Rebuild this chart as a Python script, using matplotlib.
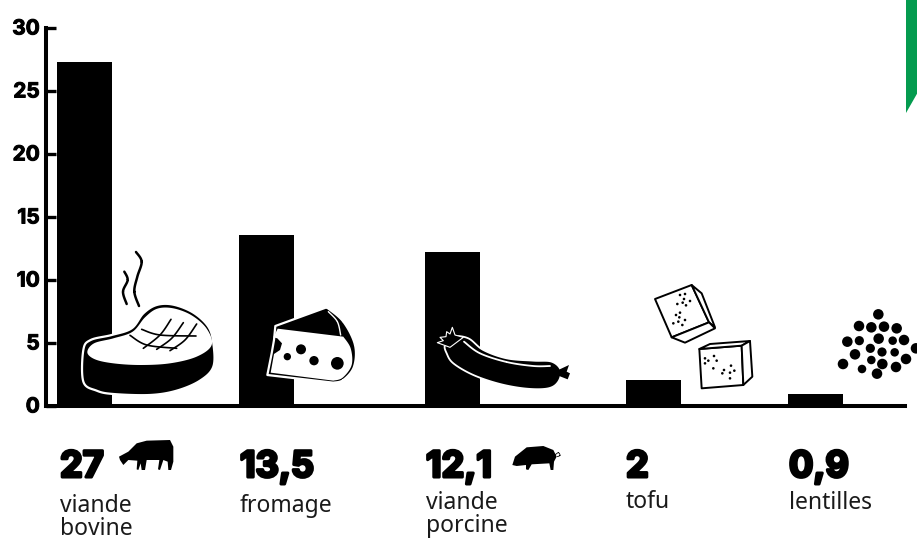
import numpy as np
import matplotlib
matplotlib.use("Agg")
import matplotlib.pyplot as plt
import matplotlib.patheffects as pe
from matplotlib.patches import Polygon, Circle
from matplotlib.transforms import ScaledTranslation

categories = ["viande\nbovine", "fromage", "viande\nporcine", "tofu", "lentilles"]
value_labels = ["27", "13,5", "12,1", "2", "0,9"]
bar_values = [27.3, 13.6, 12.2, 2.05, 0.95]
y_ticks = [0, 5, 10, 15, 20, 25, 30]

W, H = 917, 541
BLACK = "#000000"
GREEN = "#049B4F"
bar_left = [57, 239, 425, 626, 788]
label_left = [60, 240, 426, 626, 789]
name_top = [494, 494, 491, 490, 491]


def smooth(pts, n=12):
    # closed Catmull-Rom outline, good enough for the little icons
    p = np.array(pts, float)
    out = []
    for i in range(len(p)):
        p0, p1, p2, p3 = p[i - 1], p[i], p[(i + 1) % len(p)], p[(i + 2) % len(p)]
        for t in np.linspace(0, 1, n, endpoint=False):
            out.append(0.5 * (2 * p1 + (p2 - p0) * t + (2 * p0 - 5 * p1 + 4 * p2 - p3) * t**2
                              + (3 * p1 - p0 - 3 * p2 + p3) * t**3))
    return np.array(out)


def smooth_open(pts, n=12):
    p = np.array(pts, float)
    p = np.vstack([p[0], p, p[-1]])
    out = []
    for i in range(1, len(p) - 2):
        p0, p1, p2, p3 = p[i - 1], p[i], p[i + 1], p[i + 2]
        for t in np.linspace(0, 1, n):
            out.append(0.5 * (2 * p1 + (p2 - p0) * t + (2 * p0 - 5 * p1 + 4 * p2 - p3) * t**2
                              + (3 * p1 - p0 - 3 * p2 + p3) * t**3))
    return np.array(out)


# zoom crops are 3x, so icon points below are written in crop pixels
def z1(pts):
    return np.array([(x / 3, 230 + y / 3) for x, y in pts])


def z2(pts):
    return np.array([(400 + x / 3, 230 + y / 3) for x, y in pts])


fig = plt.figure(figsize=(W / 100, H / 100), dpi=100, facecolor="white")
ax = fig.add_axes([46 / W, 1 - 406 / H, (905 - 46) / W, (406 - 28) / H])
ax.set_xlim(46, 905)
ax.set_ylim(0, 30)
ax.bar(bar_left, bar_values, width=55, align="edge", color=BLACK, linewidth=0, zorder=1)

for s in ["top", "right"]:
    ax.spines[s].set_visible(False)
for s in ["left", "bottom"]:
    ax.spines[s].set_linewidth(2.9)
    ax.spines[s].set_zorder(3)
ax.spines["left"].set_capstyle("projecting")
ax.set_xticks([])
ax.set_yticks(y_ticks)
ax.tick_params(axis="y", direction="in", length=7.5, width=2.4, pad=4.5, labelsize=15, color=BLACK)
nudge = ScaledTranslation(0, 1.5 / 100, fig.dpi_scale_trans)
for lab in ax.get_yticklabels():
    lab.set_fontfamily("Inter")
    lab.set_fontweight("bold")
    lab.set_path_effects([pe.withStroke(linewidth=0.7, foreground=BLACK)])
    lab.set_transform(lab.get_transform() + nudge)

ov = fig.add_axes([0, 0, 1, 1], facecolor="none", zorder=5)
ov.set_xlim(0, W)
ov.set_ylim(H, 0)
ov.axis("off")


def poly(pts, fc=BLACK, ec="none", lw=0.0, z=5):
    ov.add_patch(Polygon(pts, closed=True, facecolor=fc, edgecolor=ec, linewidth=lw, zorder=z, joinstyle="round"))


def line(pts, color=BLACK, lw=1.0, z=6):
    ov.plot(pts[:, 0], pts[:, 1], color=color, lw=lw, solid_capstyle="round", zorder=z)


# green tab in the top right corner
poly([(906, -1), (918, -1), (918, 92), (906, 113)], fc=GREEN)

# steak
steak = [(250, 360), (272, 330), (335, 315), (395, 295), (430, 250), (470, 225), (520, 224), (580, 248),
         (625, 290), (640, 340), (640, 410), (600, 452), (530, 482), (450, 495), (340, 492), (290, 482), (250, 455)]
poly(smooth(z1(steak)), ec="white", lw=1.6)
top = [(262, 367), (282, 340), (340, 325), (398, 305), (435, 262), (472, 236), (520, 235), (575, 256),
       (620, 296), (635, 345), (590, 380), (510, 400), (420, 405), (340, 400), (285, 388)]
poly(smooth(z1(top)), fc="white", z=6)
for pts in [[(513, 268), (480, 315), (430, 355)], [(550, 278), (515, 325), (470, 358)],
            [(590, 282), (555, 330), (510, 362)], [(425, 298), (480, 315), (588, 318)],
            [(390, 316), (440, 345), (530, 355)]]:
    line(smooth_open(z1(pts)), lw=1.2, z=7)
line(smooth_open(z1([(408, 66), (425, 95), (412, 140), (403, 185), (417, 228)])), lw=1.8)
line(smooth_open(z1([(373, 125), (383, 150), (369, 185), (380, 222)])), lw=1.8)

# cheese: white edged silhouette, then the pale face on top of it
rind_arc = smooth_open(z1([(980, 232), (1030, 275), (1065, 345), (1062, 410), (1030, 450), (1000, 458)]))
cheese = np.vstack([z1([(826, 288)]), rind_arc, z1([(802, 435), (815, 370), (822, 330)])])
poly(cheese, ec="white", lw=1.6)
face_arc = smooth_open(z1([(1030, 320), (1052, 355), (1055, 405), (1028, 443), (1000, 452)]))
face = np.vstack([z1([(833, 296)]), face_arc, z1([(812, 428), (822, 372), (840, 360), (846, 340), (832, 325), (820, 322)])])
poly(face, fc="white", z=6)
line(smooth_open(z1([(985, 245), (1012, 275), (1022, 315)])), color="white", lw=1.0, z=7)
for x, y, r in [(903, 358, 15), (862, 380, 11), (942, 392, 14), (1012, 400, 19)]:
    ov.add_patch(Circle(z1([(x, y)])[0], r / 3, fc=BLACK, ec="none", zorder=7))

# sausage
sausage = [(135, 345), (160, 320), (205, 325), (250, 360), (320, 385), (400, 392), (455, 395), (482, 420),
           (475, 455), (445, 475), (380, 476), (300, 462), (220, 435), (160, 400), (140, 370)]
poly(smooth(z2(sausage)), ec="white", lw=1.3)
poly(z2([(112, 338), (130, 332), (120, 322), (138, 320), (140, 305), (150, 312), (157, 292), (165, 315), (190, 322),
         (150, 352)]), ec="white", lw=0.8)
poly(z2([(475, 420), (507, 405), (500, 425), (510, 430), (503, 448), (475, 437)]))
line(smooth_open(z2([(192, 335), (240, 370), (320, 396), (400, 408), (450, 408)])), color="white", lw=1.3)

# tofu
cube_a = [[(765, 207), (875, 165), (927, 277), (815, 322)],
          [(875, 165), (905, 190), (945, 292), (927, 277)],
          [(815, 322), (927, 277), (945, 295), (855, 338)]]
cube_b = [[(898, 357), (1025, 347), (1030, 465), (905, 475)],
          [(898, 357), (930, 342), (1050, 333), (1025, 347)],
          [(1025, 347), (1050, 333), (1057, 440), (1030, 465)]]
for face_pts in cube_a + cube_b:
    poly(z2(face_pts), fc="white", ec=BLACK, lw=1.4)
tofu_dots = [(840, 195), (855, 192), (852, 207), (870, 213), (848, 218), (832, 222), (858, 226), (840, 248), (828, 255),
             (838, 262), (855, 270), (820, 280), (835, 275), (847, 285), (915, 385), (942, 378), (925, 392), (950, 392),
             (915, 400), (940, 415), (993, 407), (972, 420), (1003, 422), (967, 430), (990, 428), (990, 445)]
for x, y in tofu_dots:
    ov.add_patch(Circle(z2([(x, y)])[0], 1.3, fc=BLACK, ec="none", zorder=7))

# lentils
lentils = [(1435, 253, 14), (1377, 288, 14), (1414, 292, 14), (1452, 290, 14), (1490, 295, 14), (1342, 335, 14),
           (1378, 332, 12), (1436, 326, 14), (1478, 332, 11), (1512, 330, 14), (1548, 355, 14), (1411, 355, 12),
           (1446, 366, 12), (1484, 367, 11), (1365, 373, 14), (1414, 390, 11), (1518, 387, 14), (1329, 402, 14),
           (1386, 417, 11), (1447, 402, 14), (1488, 411, 14), (1431, 431, 14)]
for x, y, r in lentils:
    ov.add_patch(Circle(z2([(x, y)])[0], r / 3 + 0.6, fc=BLACK, ec="none", zorder=6))

# cow and pig
cow = [(357, 680), (385, 665), (410, 640), (440, 632), (510, 630), (520, 650), (520, 695), (513, 720), (505, 720),
       (503, 695), (490, 690), (480, 720), (474, 718), (478, 690), (440, 690), (435, 720), (425, 720), (422, 700),
       (415, 720), (410, 718), (412, 692), (385, 690), (370, 705), (360, 690)]
poly(z1(cow))
pig = [(337, 705), (345, 680), (380, 652), (430, 648), (460, 660), (470, 680), (462, 695), (460, 720), (452, 720),
       (448, 700), (395, 703), (385, 720), (378, 718), (378, 705), (350, 708)]
poly(z2(pig))
line(smooth_open(z2([(465, 675), (475, 668), (480, 676), (472, 680)])), lw=0.6)

for x, val, name, ny in zip(label_left, value_labels, categories, name_top):
    ov.text(x, 477, val, fontsize=26, fontfamily="Inter", fontweight="bold", ha="left", va="baseline", color=BLACK,
            path_effects=[pe.withStroke(linewidth=2.2, foreground=BLACK)], clip_on=False)
    ov.text(x, ny, name, fontsize=16.5, fontfamily="Noto Sans", ha="left", va="top", color="#1a1a1a",
            linespacing=0.95, clip_on=False)

fig.savefig("out.png", dpi=100)
